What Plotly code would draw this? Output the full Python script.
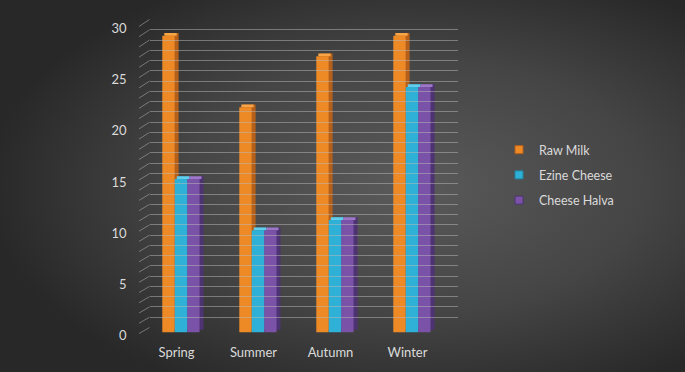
import base64
import plotly.graph_objects as go

# ---- data ----
categories = ["Spring", "Summer", "Autumn", "Winter"]
raw_milk = [29, 22, 27, 29]
ezine_cheese = [15, 10, 11, 24]
cheese_halva = [15, 10, 11, 24]
series_names = ["Raw Milk", "Ezine Cheese", "Cheese Halva"]
y_ticks = [0, 5, 10, 15, 20, 25, 30]

# ---- style ----
W, H = 685, 372
front_col = ["#EE8A26", "#2FB0D6", "#7A52A8"]
side_col = ["#B5601A", "#1E85A3", "#4E3373"]
top_col = ["#F8A547", "#63CDEB", "#9C78C6"]
bar_w = 0.16
offsets = [-0.243, -0.081, 0.081]
depth_x = 0.052   # category units
depth_y = 0.27    # value units
font_fam = "Lato, 'Open Sans', sans-serif"
txt_col = "#DADADA"

def px_x(p):
    return p / W

def px_y(p):
    return 1 - p / H

# front plane (bars) and back wall (gridlines)
x_front = [px_x(142.5), px_x(450.5)]
y_front = [px_y(332.5), px_y(25.5)]
x_back = [px_x(149.5), px_x(457.5)]
y_back = [px_y(327.5), px_y(19.5)]
x_lab = [px_x(138), px_x(446)]
y_lab = [px_y(335.5), px_y(28.5)]

svg = f"""<svg xmlns='http://www.w3.org/2000/svg' width='{W}' height='{H}'>
<defs><radialGradient id='g' cx='60%' cy='50%' r='62%'>
<stop offset='0' stop-color='#5a5a5a'/><stop offset='0.55' stop-color='#454545'/>
<stop offset='1' stop-color='#282828'/></radialGradient></defs>
<rect width='{W}' height='{H}' fill='url(#g)'/></svg>"""
bg_uri = "data:image/svg+xml;base64," + base64.b64encode(svg.encode()).decode()

fig = go.Figure()
values = [raw_milk, ezine_cheese, cheese_halva]

# back/side faces
for i, vals in enumerate(values):
    fig.add_trace(go.Bar(
        x=categories, y=vals, base=[depth_y] * len(vals),
        offset=offsets[i] + depth_x, width=bar_w,
        marker=dict(color=side_col[i], line=dict(width=0)),
        showlegend=False, hoverinfo="skip"))
# top faces
for i, vals in enumerate(values):
    fig.add_trace(go.Bar(
        x=categories, y=[depth_y] * len(vals), base=vals,
        offset=offsets[i] + depth_x * 0.5, width=bar_w,
        marker=dict(color=top_col[i], line=dict(width=0)),
        showlegend=False, hoverinfo="skip"))
# front faces
for i, vals in enumerate(values):
    fig.add_trace(go.Bar(
        x=categories, y=vals, name=series_names[i],
        offset=offsets[i], width=bar_w,
        marker=dict(color=front_col[i], line=dict(width=0)),
        legendgroup=series_names[i], showlegend=False))
# legend entries (small square keys)
for i, name in enumerate(series_names):
    fig.add_trace(go.Scatter(
        x=[None], y=[None], name=name, mode="markers",
        marker=dict(symbol="square", size=8, color=front_col[i],
                    line=dict(color=side_col[i], width=1)),
        legendgroup=name))

# helper traces for back-wall axis and label axes
fig.add_trace(go.Scatter(x=[0, 1], y=[0, 30], xaxis="x2", yaxis="y2",
                         mode="markers", marker=dict(opacity=0),
                         showlegend=False, hoverinfo="skip"))
fig.add_trace(go.Scatter(x=categories, y=[0] * len(categories), xaxis="x3", yaxis="y",
                         mode="markers", marker=dict(opacity=0),
                         showlegend=False, hoverinfo="skip"))
fig.add_trace(go.Scatter(x=categories[:2], y=[0, 30], xaxis="x", yaxis="y3",
                         mode="markers", marker=dict(opacity=0),
                         showlegend=False, hoverinfo="skip"))

grid_col = "rgba(185,185,185,0.5)"
shapes = []
# floor-edge diagonals from front plane to back wall
for v in range(0, 31):
    yf = y_front[0] + v / 30 * (y_front[1] - y_front[0])
    yb = y_back[0] + v / 30 * (y_back[1] - y_back[0])
    shapes.append(dict(type="line", xref="paper", yref="paper",
                       x0=px_x(139), y0=yf - 1 / H, x1=x_back[0], y1=yb,
                       line=dict(color=grid_col, width=1), layer="below"))

fig.update_layout(
    width=W, height=H,
    margin=dict(l=0, r=0, t=0, b=0),
    paper_bgcolor="#3a3a3a", plot_bgcolor="rgba(0,0,0,0)",
    barmode="overlay",
    images=[dict(source=bg_uri, xref="paper", yref="paper", x=0, y=1,
                 sizex=1, sizey=1, sizing="stretch", layer="below",
                 xanchor="left", yanchor="top")],
    font=dict(family=font_fam, color=txt_col, size=13),
    xaxis=dict(domain=x_front, range=[-0.5, 3.5], type="category",
               showticklabels=False, showgrid=False, zeroline=False,
               showline=False, ticks="", anchor="y", automargin=False),
    yaxis=dict(domain=y_front, range=[0, 30], showticklabels=False,
               showgrid=False, zeroline=False, showline=False, ticks="",
               anchor="x", automargin=False),
    yaxis3=dict(domain=y_lab, range=[0, 30], tickvals=y_ticks,
                anchor="x",
                showgrid=False, zeroline=False, showline=False, ticks="",
                ticklabelstandoff=15, automargin=False,
                tickfont=dict(size=13, color=txt_col)),
    xaxis2=dict(domain=x_back, range=[0, 1], visible=False, anchor="y2",
                showgrid=False, automargin=False),
    yaxis2=dict(domain=y_back, range=[0, 30], dtick=1, anchor="x2",
                showticklabels=False, showgrid=True,
                gridcolor=grid_col, gridwidth=1, zeroline=False, ticks="",
                automargin=False, layer="below traces"),
    xaxis3=dict(domain=x_lab, range=[-0.5, 3.5], type="category",
                anchor="y", showgrid=False, zeroline=False,
                showline=False, ticks="", ticklabelstandoff=10,
                tickfont=dict(size=13, color=txt_col), automargin=False),
    legend=dict(x=px_x(499), y=px_y(175), xanchor="left", yanchor="middle",
                font=dict(size=12.5, color=txt_col), bgcolor="rgba(0,0,0,0)",
                tracegroupgap=6, itemwidth=30),
    shapes=shapes,
    showlegend=True,
)

fig.write_html("out.html", config={"displayModeBar": False},
               post_script="document.body.style.margin='0';document.body.style.padding='0';document.body.style.overflow='hidden';")
